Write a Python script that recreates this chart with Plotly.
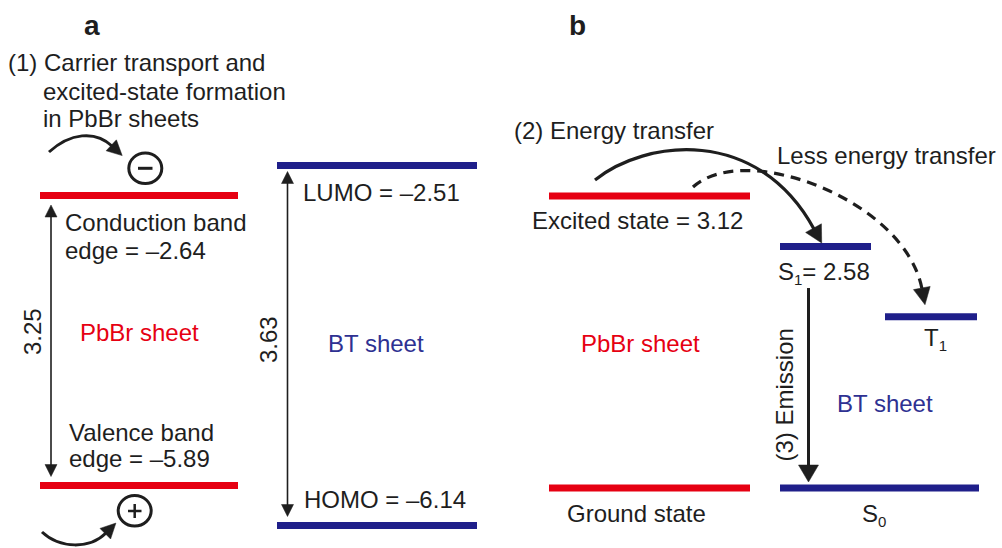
import math
import plotly.graph_objects as go

# ---------------- data (energies in eV) ----------------
pbbr_a_names = ["Conduction band edge", "Valence band edge"]
pbbr_a_energy = [-2.64, -5.89]
bt_a_names = ["LUMO", "HOMO"]
bt_a_energy = [-2.51, -6.14]
pbbr_b_names = ["Excited state", "Ground state"]
pbbr_b_energy = [3.12, 0.0]
bt_b_names = ["S1", "T1", "S0"]
bt_b_energy = [2.58, 1.83, 0.0]

# ---------------- styling / layout ----------------
W, H = 1002, 548
FONT = "Liberation Sans, Arial, Helvetica, sans-serif"
BLACK = "#1e1e1e"
RED = "#e60012"
BLUE_LINE = "#1f1f8a"
BLUE_TEXT = "#2e3192"
FS = 24

# energy axes (each column of the diagram has its own energy scale)
RANGES = {"y2": [-6.590, -0.449], "y3": [-6.367, -0.841], "y4": [-0.641, 5.214]}


def py(E, ax):
    lo, hi = RANGES[ax]
    return (hi - E) / (hi - lo) * H


# horizontal extents of the level bars (canvas units)
X_PBBR_A = (40, 238)
X_BT_A = (277, 477)
X_PBBR_B = (549, 750)
X_BT_B = {"S1": (780, 871), "T1": (885, 977), "S0": (780, 979)}

fig = go.Figure()


def level(x0x1, E, ax, color):
    fig.add_trace(go.Scatter(x=list(x0x1), y=[E, E], yaxis=ax, mode="lines",
                             line=dict(color=color, width=7),
                             hoverinfo="skip", showlegend=False))


for E in pbbr_a_energy:
    level(X_PBBR_A, E, "y2", RED)
for E in bt_a_energy:
    level(X_BT_A, E, "y3", BLUE_LINE)
for E in pbbr_b_energy:
    level(X_PBBR_B, E, "y4", RED)
for n, E in zip(bt_b_names, bt_b_energy):
    level(X_BT_B[n], E, "y4", BLUE_LINE)

shapes = []


def seg(x0, y0, x1, y1, w, color=BLACK):
    shapes.append(dict(type="line", xref="x", yref="y", x0=x0, y0=y0, x1=x1, y1=y1,
                       line=dict(color=color, width=w)))


def head(tx, ty, ux, uy, L, Wd, color=BLACK):
    n = math.hypot(ux, uy)
    ux, uy = ux / n, uy / n
    bx, by = tx - ux * L, ty - uy * L
    px_, py_ = -uy * Wd / 2, ux * Wd / 2
    path = f"M {tx},{ty} L {bx + px_},{by + py_} L {bx - px_},{by - py_} Z"
    shapes.append(dict(type="path", xref="x", yref="y", path=path,
                       fillcolor=color, line=dict(color=color, width=0.5)))


def curve(p0, p1, p2, p3, w, dash="solid", color=BLACK, L=16, Wd=17):
    path = f"M {p0[0]},{p0[1]} C {p1[0]},{p1[1]} {p2[0]},{p2[1]} {p3[0]},{p3[1]}"
    shapes.append(dict(type="path", xref="x", yref="y", path=path,
                       line=dict(color=color, width=w, dash=dash)))
    ux, uy = p3[0] - p2[0], p3[1] - p2[1]
    n = math.hypot(ux, uy)
    tx, ty = p3[0] + ux / n * L, p3[1] + uy / n * L
    head(tx, ty, ux, uy, L + 1, Wd, color)


def double_arrow(x, ytop, ybot, w=1.6, L=12, Wd=12):
    seg(x, ytop + L - 1, x, ybot - L + 1, w)
    head(x, ytop, 0, -1, L, Wd)
    head(x, ybot, 0, 1, L, Wd)


# band-gap arrows
double_arrow(51, py(pbbr_a_energy[0], "y2") + 9.5, py(pbbr_a_energy[1], "y2") - 9)
double_arrow(287.5, py(bt_a_energy[0], "y3") + 6, py(bt_a_energy[1], "y3") - 9)

# emission arrow S1 -> S0
em_top = py(bt_b_energy[0], "y4") + 41.5
em_tip = py(bt_b_energy[2], "y4") - 6
seg(808.5, em_top, 808.5, em_tip - 16, 3)
head(808.5, em_tip, 0, 1, 17, 20)

# carrier arrows and charges
curve((49, 152), (70, 133), (95, 130), (112, 146), 3, L=14, Wd=15)
curve((42, 532), (60, 549), (90, 549), (106, 533), 3, L=14, Wd=15)
shapes.append(dict(type="circle", xref="x", yref="y", x0=145.3 - 16.5, x1=145.3 + 16.5,
                   y0=168.3 - 15.3, y1=168.3 + 15.3, line=dict(color=BLACK, width=3)))
seg(138, 168.3, 152.5, 168.3, 3)
shapes.append(dict(type="circle", xref="x", yref="y", x0=134.7 - 16.5, x1=134.7 + 16.5,
                   y0=510.8 - 15.3, y1=510.8 + 15.3, line=dict(color=BLACK, width=3)))
seg(128, 511, 141.5, 511, 2.5)
seg(134.7, 504, 134.7, 518, 2.5)

# energy-transfer arrows
curve((595, 180), (645, 140), (757, 125), (814, 229), 3.2, L=16, Wd=18)
curve((693, 187), (745, 140), (905, 200), (922, 289), 3.2, dash="10px,7px", L=16, Wd=17)

# ---------------- texts ----------------
ann = []


def txt(t, x, y, color=BLACK, anchor="left", size=FS, angle=0, bold=False):
    ann.append(dict(text=f"<b>{t}</b>" if bold else t, x=x - (2 if anchor == "left" else 0),
                    y=y, xref="x", yref="y", showarrow=False, xanchor=anchor,
                    yanchor="middle", textangle=angle,
                    font=dict(family=FONT, size=size, color=color)))


def val(E):
    return ("\u2013" if E < 0 else "") + f"{abs(E):.2f}"


def sub(s):
    return f"<sub><span style='font-size:15px'>{s}</span></sub>"


txt("a", 92, 25.5, anchor="center", size=28, bold=True)
txt("b", 577, 25.5, anchor="center", size=28, bold=True)
txt("(1) Carrier transport and", 8, 62)
txt("excited-state formation", 43, 91)
txt("in PbBr sheets", 43, 118)
txt("Conduction band", 65, 222)
txt("edge = " + val(pbbr_a_energy[0]), 65, 250.5)
txt("Valence band", 69, 432)
txt("edge = " + val(pbbr_a_energy[1]), 69, 458)
txt(f"{pbbr_a_energy[0] - pbbr_a_energy[1]:.2f}", 32, 332, anchor="center", angle=-90)
txt("PbBr sheet", 139, 332.5, color=RED, anchor="center")
txt("LUMO = " + val(bt_a_energy[0]), 303, 192.5)
txt("HOMO = " + val(bt_a_energy[1]), 304, 499.4)
txt(f"{bt_a_energy[0] - bt_a_energy[1]:.2f}", 268, 340, anchor="center", angle=-90)
txt("BT sheet", 376, 343, color=BLUE_TEXT, anchor="center")

txt("(2) Energy transfer", 514, 130.5)
txt("Less energy transfer", 777, 155.2)
txt("Excited state = " + val(pbbr_b_energy[0]), 532, 220)
txt("S" + sub("1") + "= " + val(bt_b_energy[0]), 778, 272.5)
txt("PbBr sheet", 640, 343, color=RED, anchor="center")
txt("T" + sub("1"), 935, 338.5, anchor="center")
txt("BT sheet", 885, 403, color=BLUE_TEXT, anchor="center")
txt("(3) Emission", 784, 395.5, anchor="center", angle=-90)
txt("Ground state", 636, 513, anchor="center")
txt("S" + sub("0"), 874, 515, anchor="center")

hidden = dict(visible=False, showgrid=False, zeroline=False, fixedrange=True)
fig.update_layout(
    width=W, height=H, autosize=False,
    margin=dict(l=0, r=0, t=0, b=0, pad=0),
    paper_bgcolor="white", plot_bgcolor="white",
    showlegend=False, hovermode=False,
    xaxis=dict(range=[0, W], **hidden),
    yaxis=dict(range=[H, 0], **hidden),
    yaxis2=dict(range=RANGES["y2"], overlaying="y", **hidden),
    yaxis3=dict(range=RANGES["y3"], overlaying="y", **hidden),
    yaxis4=dict(range=RANGES["y4"], overlaying="y", **hidden),
    shapes=shapes, annotations=ann,
)

fig.write_html("out.html", include_plotlyjs=True,
               config={"displayModeBar": False, "staticPlot": True},
               post_script="document.body.style.margin='0';document.body.style.overflow='hidden';")
